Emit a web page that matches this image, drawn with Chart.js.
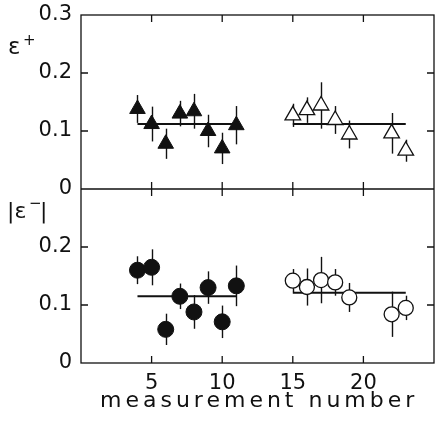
<!DOCTYPE html>
<html>
<head>
<meta charset="utf-8">
<script src="https://cdn.jsdelivr.net/npm/chart.js@4.4.0/dist/chart.umd.min.js"></script>
<style>
  html, body { margin: 0; padding: 0; background: #fff; }
  #wrap { width: 437px; height: 424px; }
</style>
</head>
<body>
<div id="wrap"><canvas id="chart"></canvas></div>
<script>
// measurement numbers of the two runs
const runA = [4, 5, 6, 7, 8, 9, 10, 11];
const runB = [15, 16, 17, 18, 19, 22, 23];

// eps+ (upper panel)
const epsPlusA = [0.138, 0.112, 0.078, 0.130, 0.134, 0.100, 0.070, 0.110];
const epsPlusErrA = [0.024, 0.030, 0.026, 0.022, 0.030, 0.028, 0.027, 0.033];
const epsPlusB = [0.127, 0.136, 0.144, 0.119, 0.094, 0.096, 0.066];
const epsPlusErrB = [0.020, 0.022, 0.040, 0.024, 0.024, 0.035, 0.019];
const epsPlusFit = [0.112, 0.112];     // run A, run B

// |eps-| (lower panel)
const epsMinusA = [0.160, 0.165, 0.058, 0.115, 0.088, 0.130, 0.071, 0.133];
const epsMinusErrA = [0.024, 0.031, 0.027, 0.022, 0.029, 0.028, 0.028, 0.035];
const epsMinusB = [0.142, 0.131, 0.143, 0.139, 0.113, 0.084, 0.095];
const epsMinusErrB = [0.020, 0.032, 0.040, 0.023, 0.025, 0.039, 0.021];
const epsMinusFit = [0.115, 0.121];    // run A, run B

const xTicks = [5, 10, 15, 20];
const yTicksTop = [0, 0.1, 0.2, 0.3];
const yTicksBot = [0, 0.1, 0.2];

const ink = '#111111';
const fontFamily = "'DejaVu Sans', sans-serif";

const pts = (xs, ys) => xs.map((x, i) => ({x: x, y: ys[i]}));
const fitLine = (xs, v) => [{x: xs[0], y: v}, {x: xs[xs.length - 1], y: v}];

// error bars, drawn under the markers
const errorBars = {
    id: 'errorBars',
    beforeDatasetsDraw(chart) {
        const ctx = chart.ctx;
        const xs = chart.scales.x;
        chart.data.datasets.forEach((ds) => {
            if (!ds.errors) return;
            const ys = chart.scales[ds.yAxisID];
            ctx.save();
            ctx.strokeStyle = ink;
            ctx.lineWidth = 1.4;
            ds.data.forEach((p, j) => {
                const px = Math.round(xs.getPixelForValue(p.x)) + 0.5;
                ctx.beginPath();
                ctx.moveTo(px, ys.getPixelForValue(p.y - ds.errors[j]));
                ctx.lineTo(px, ys.getPixelForValue(p.y + ds.errors[j]));
                ctx.stroke();
            });
            ctx.restore();
        });
    }
};

// frame, panel divider and inward tick marks
const frame = {
    id: 'frame',
    afterDatasetsDraw(chart) {
        const ctx = chart.ctx;
        const a = chart.chartArea;
        const xs = chart.scales.x;
        const top = chart.scales.yTop, bot = chart.scales.yBot;
        const mid = top.bottom;
        const t = 7;
        ctx.save();
        ctx.strokeStyle = ink;
        ctx.lineWidth = 1.3;
        ctx.strokeRect(a.left, a.top, a.right - a.left, a.bottom - a.top);
        ctx.beginPath();
        ctx.moveTo(a.left, mid);
        ctx.lineTo(a.right, mid);
        xTicks.forEach((v) => {
            const px = xs.getPixelForValue(v);
            ctx.moveTo(px, a.top); ctx.lineTo(px, a.top + t);
            ctx.moveTo(px, mid - t); ctx.lineTo(px, mid + t);
            ctx.moveTo(px, a.bottom); ctx.lineTo(px, a.bottom - t);
        });
        [[top, [0.1, 0.2]], [bot, [0.1, 0.2]]].forEach(([s, vals]) => {
            vals.forEach((v) => {
                const py = s.getPixelForValue(v);
                ctx.moveTo(a.left, py); ctx.lineTo(a.left + t, py);
                ctx.moveTo(a.right, py); ctx.lineTo(a.right - t, py);
            });
        });
        ctx.stroke();
        ctx.restore();
    }
};

// axis title and panel labels
const labels = {
    id: 'labels',
    afterDraw(chart) {
        const ctx = chart.ctx;
        ctx.save();
        ctx.fillStyle = ink;
        ctx.textBaseline = 'alphabetic';
        ctx.textAlign = 'left';
        ctx.font = '22px ' + fontFamily;
        ctx.letterSpacing = '4px';
        ctx.fillText('measurement number', 100, 407);
        ctx.letterSpacing = '0px';
        // eps+
        ctx.font = '23px ' + fontFamily;
        ctx.fillText('ε', 8, 54);
        ctx.font = '15px ' + fontFamily;
        ctx.fillText('+', 23, 45);
        // |eps-|
        ctx.font = '22px ' + fontFamily;
        ctx.fillText('|ε', 7, 218);
        ctx.font = '15px ' + fontFamily;
        ctx.fillText('−', 29, 208);
        ctx.font = '22px ' + fontFamily;
        ctx.fillText('|', 40, 218);
        ctx.restore();
    }
};

const fixWidth = (s) => { s.width = 81; s.paddingTop = 0; s.paddingBottom = 0; };
const tickFmt = (v) => (v === 0 ? '0' : v.toFixed(1));

new Chart(document.getElementById('chart'), {
    type: 'scatter',
    data: {
        datasets: [
            {
                data: pts(runA, epsPlusA), errors: epsPlusErrA, yAxisID: 'yTop',
                pointStyle: 'triangle', pointRadius: 9,
                backgroundColor: ink, borderColor: ink, borderWidth: 1
            },
            {
                data: pts(runB, epsPlusB), errors: epsPlusErrB, yAxisID: 'yTop',
                pointStyle: 'triangle', pointRadius: 9,
                backgroundColor: '#ffffff', borderColor: ink, borderWidth: 1.3
            },
            {
                type: 'line', data: fitLine(runA, epsPlusFit[0]), yAxisID: 'yTop',
                borderColor: ink, borderWidth: 2, pointRadius: 0
            },
            {
                type: 'line', data: fitLine(runB, epsPlusFit[1]), yAxisID: 'yTop',
                borderColor: ink, borderWidth: 2, pointRadius: 0
            },
            {
                data: pts(runA, epsMinusA), errors: epsMinusErrA, yAxisID: 'yBot',
                pointStyle: 'circle', pointRadius: 8,
                backgroundColor: ink, borderColor: ink, borderWidth: 1
            },
            {
                data: pts(runB, epsMinusB), errors: epsMinusErrB, yAxisID: 'yBot',
                pointStyle: 'circle', pointRadius: 7.5,
                backgroundColor: '#ffffff', borderColor: ink, borderWidth: 1.3
            },
            {
                type: 'line', data: fitLine(runA, epsMinusFit[0]), yAxisID: 'yBot',
                borderColor: ink, borderWidth: 2, pointRadius: 0
            },
            {
                type: 'line', data: fitLine(runB, epsMinusFit[1]), yAxisID: 'yBot',
                borderColor: ink, borderWidth: 2, pointRadius: 0
            }
        ]
    },
    options: {
        responsive: true,
        maintainAspectRatio: false,
        animation: false,
        layout: {autoPadding: false, padding: {top: 15, right: 3, left: 0, bottom: 0}},
        plugins: {legend: {display: false}, tooltip: {enabled: false}},
        scales: {
            x: {
                type: 'linear', min: 0, max: 25,
                afterBuildTicks: (s) => { s.ticks = xTicks.map((v) => ({value: v})); },
                afterFit: (s) => { s.height = 61; s.paddingLeft = 0; s.paddingRight = 0; },
                grid: {display: false},
                border: {display: false},
                ticks: {color: ink, padding: 0, font: {family: fontFamily, size: 21}}
            },
            yBot: {
                type: 'linear', position: 'left', stack: 'panels', stackWeight: 1,
                min: 0, max: 0.3,
                afterBuildTicks: (s) => { s.ticks = yTicksBot.map((v) => ({value: v})); },
                afterFit: fixWidth,
                grid: {display: false},
                border: {display: false},
                ticks: {color: ink, padding: 1, callback: tickFmt, font: {family: fontFamily, size: 21}}
            },
            yTop: {
                type: 'linear', position: 'left', stack: 'panels', stackWeight: 1,
                min: 0, max: 0.3,
                afterBuildTicks: (s) => { s.ticks = yTicksTop.map((v) => ({value: v})); },
                afterFit: fixWidth,
                grid: {display: false},
                border: {display: false},
                ticks: {color: ink, padding: 1, callback: tickFmt, font: {family: fontFamily, size: 21}}
            }
        }
    },
    plugins: [errorBars, frame, labels]
});
</script>
</body>
</html>
